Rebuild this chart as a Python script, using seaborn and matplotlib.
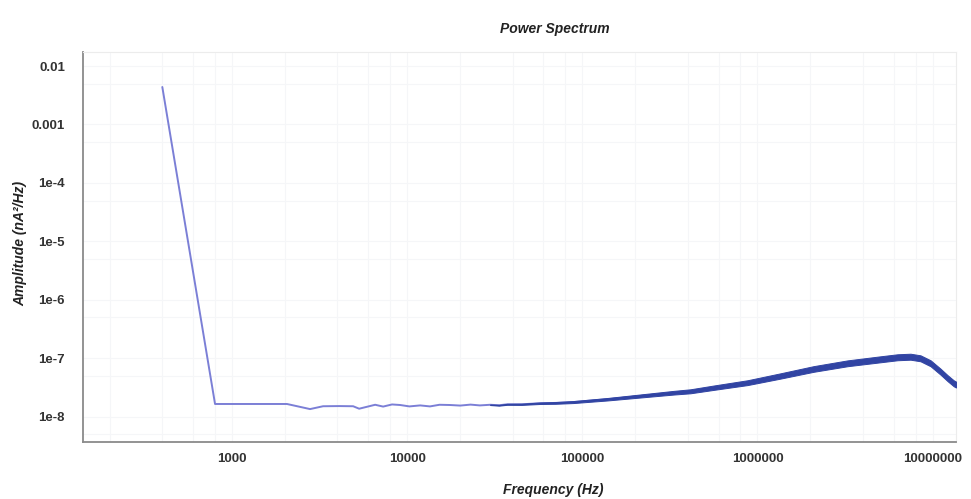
import numpy as np
import pandas as pd
import seaborn as sns
import matplotlib
matplotlib.use("Agg")
import matplotlib.pyplot as plt
from matplotlib.ticker import FixedLocator, FixedFormatter, NullFormatter

# ---- data ----
freq_hz = [400, 800, 2060, 2790, 3310, 4100, 4915, 5320, 6565, 7290, 8200, 9120,
           10300, 11870, 13500, 15300, 17600, 20090, 23000, 26000, 29800, 33500,
           37250, 45000, 57500, 70000, 88900, 139000, 214000, 331000, 414000,
           561000, 877000, 1.35e6, 2.09e6, 3.27e6, 5.04e6, 6.31e6, 7.48e6,
           8.53e6, 9.74e6, 1.11e7, 1.22e7, 1.32e7, 1.36e7]
amplitude = [4.38e-3, 1.65e-8, 1.65e-8, 1.35e-8, 1.51e-8, 1.52e-8, 1.51e-8, 1.37e-8,
             1.60e-8, 1.49e-8, 1.62e-8, 1.585e-8, 1.50e-8, 1.56e-8, 1.50e-8,
             1.60e-8, 1.585e-8, 1.55e-8, 1.61e-8, 1.56e-8, 1.60e-8, 1.57e-8,
             1.63e-8, 1.63e-8, 1.70e-8, 1.72e-8, 1.78e-8, 1.99e-8, 2.26e-8,
             2.57e-8, 2.72e-8, 3.13e-8, 3.82e-8, 4.97e-8, 6.55e-8, 8.20e-8,
             9.60e-8, 1.04e-7, 1.063e-7, 9.98e-8, 8.20e-8, 5.89e-8, 4.54e-8,
             3.73e-8, 3.55e-8]
# multiplicative half-spread of the noise band around the curve
noise_spread = [1.0] * 20 + [1.012, 1.016, 1.02, 1.024, 1.03, 1.035, 1.04, 1.05,
                             1.062, 1.075, 1.082, 1.09, 1.10, 1.11, 1.118, 1.122,
                             1.125, 1.125, 1.125, 1.125, 1.125, 1.125, 1.125, 1.125,
                             1.125]

x_major = [1000, 10000, 100000, 1000000, 10000000]
x_major_labels = ["1000", "10000", "100000", "1000000", "10000000"]
y_major = [1e-8, 1e-7, 1e-6, 1e-5, 1e-4, 1e-3, 1e-2]
y_major_labels = ["1e-8", "1e-7", "1e-6", "1e-5", "1e-4", "0.001", "0.01"]

title = "Power Spectrum"
x_title = "Frequency (Hz)"
y_title = "Amplitude (nA\u00b2/Hz)"

# ---- plotting ----
sns.set_theme(style="white")
plt.rcParams["font.family"] = ["Liberation Sans", "DejaVu Sans"]

W, H = 971, 499
fig = plt.figure(figsize=(W / 100, H / 100), dpi=100)
ax = fig.add_axes([83 / W, 1 - 442 / H, (956 - 83) / W, (442 - 52) / H])

df = pd.DataFrame({"Frequency": freq_hz, "Amplitude": amplitude, "spread": noise_spread})
sns.lineplot(data=df, x="Frequency", y="Amplitude", ax=ax, color="#7b7fd6",
             lw=1.4, estimator=None, sort=False, zorder=3)
amp = df["Amplitude"].to_numpy()
spr = df["spread"].to_numpy()
ax.fill_between(df["Frequency"], amp / spr, amp * spr, color="#3144a3",
                edgecolor="#3144a3", lw=0.7, zorder=4,
                where=spr > 1.0, interpolate=False)

ax.set_xscale("log")
ax.set_yscale("log")
ax.set_xlim(141, 1.36e7)
ax.set_ylim(3.69e-9, 0.0174)

x_minor = [m * 10 ** e for e in range(2, 8) for m in (2, 4, 6, 8)]
ax.xaxis.set_major_locator(FixedLocator(x_major))
ax.xaxis.set_major_formatter(FixedFormatter(x_major_labels))
ax.xaxis.set_minor_locator(FixedLocator(x_minor))
ax.xaxis.set_minor_formatter(NullFormatter())
y_minor = [5 * 10 ** e for e in range(-10, -1)]
ax.yaxis.set_major_locator(FixedLocator(y_major))
ax.yaxis.set_major_formatter(FixedFormatter(y_major_labels))
ax.yaxis.set_minor_locator(FixedLocator(y_minor))
ax.yaxis.set_minor_formatter(NullFormatter())

ax.grid(which="both", color="#f5f6f8", lw=0.8, zorder=0)
ax.tick_params(which="major", direction="out", length=4, width=0.8,
               color="#8a8a8a", labelsize=9.5, labelcolor="#333333")
ax.tick_params(which="minor", direction="out", length=3, width=0.8,
               color="#9a9a9a")
ax.tick_params(axis="y", which="major", pad=9)
ax.tick_params(axis="x", which="major", pad=4)
for lab in ax.get_xticklabels() + ax.get_yticklabels():
    lab.set_fontweight("bold")

for s in ("left", "bottom"):
    ax.spines[s].set_color("#8a8a8a")
    ax.spines[s].set_linewidth(1.3)
for s in ("top", "right"):
    ax.spines[s].set_color("#ececec")
    ax.spines[s].set_linewidth(0.8)

ax.set_xlabel("")
ax.set_ylabel("")

fig.text(555 / W, 1 - 29 / H, title, ha="center", va="center", fontsize=10,
         fontweight="bold", fontstyle="italic", color="#222222")
fig.text(553 / W, 1 - 490 / H, x_title, ha="center", va="center", fontsize=10,
         fontweight="bold", fontstyle="italic", color="#222222")
fig.text(20 / W, 1 - 243 / H, y_title, ha="center", va="center", fontsize=10,
         fontweight="bold", fontstyle="italic", color="#222222", rotation=90)

fig.savefig("out.png", dpi=100)
